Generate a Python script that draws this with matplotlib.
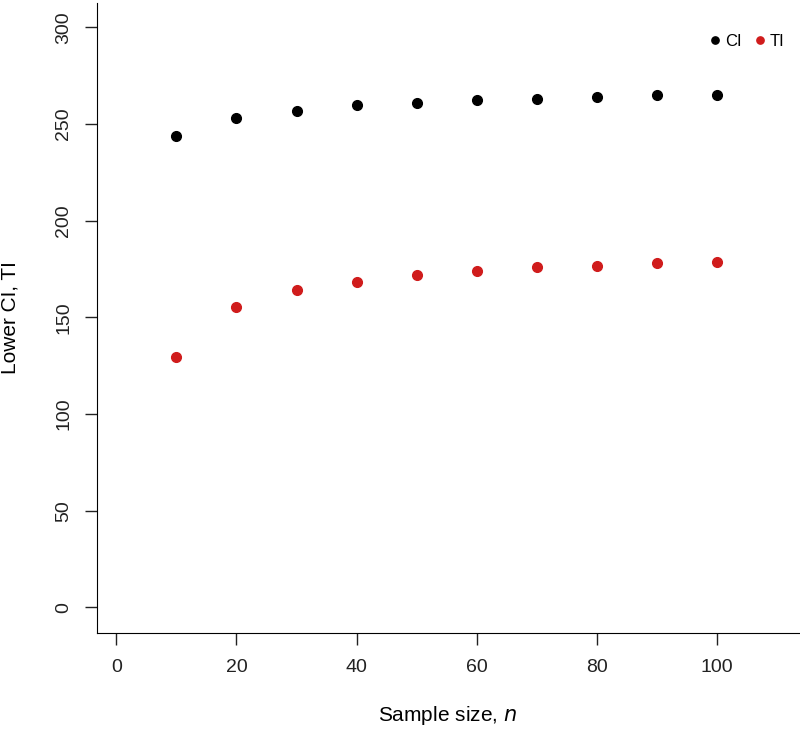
import matplotlib.pyplot as plt

plt.rcParams['font.family'] = ['Liberation Sans', 'DejaVu Sans']

n = [10, 20, 30, 40, 50, 60, 70, 80, 90, 100]
lower_ci = [243.6, 253.0, 257.0, 259.7, 261.0, 262.3, 263.0, 264.2, 264.8, 264.8]
lower_ti = [129.3, 155.4, 164.0, 168.5, 171.9, 174.0, 175.9, 176.5, 177.9, 178.5]

fig = plt.figure(figsize=(8, 7.31), dpi=100)
# axes box placed to match the R plot region
ax = fig.add_axes([96.5 / 800, 98 / 731, 703 / 800, 630 / 731])

ax.plot(n, lower_ci, 'o', color='black', ms=7, label='CI')
ax.plot(n, lower_ti, 'o', color='#d01c1c', ms=7, label='TI')

ax.set_xlim(-3.3, 113.7)
ax.set_ylim(-13.2, 312.6)
ax.set_xticks([0, 20, 40, 60, 80, 100])
ax.set_yticks([0, 50, 100, 150, 200, 250, 300])
ax.spines['top'].set_visible(False)
ax.spines['right'].set_visible(False)
ax.tick_params(direction='out', length=8.6, width=1, labelsize=14, colors='#222222')
ax.tick_params(axis='x', pad=10)
ax.tick_params(axis='y', pad=9)
for lab in ax.get_yticklabels():
    lab.set_rotation(90)
    lab.set_va('center')

ax.set_xlabel('Sample size, $\\it{n}$', fontsize=15)
ax.set_ylabel('Lower CI, TI', fontsize=15)
ax.xaxis.set_label_coords(0.5, -0.113)
ax.yaxis.set_label_coords(-0.110, 0.5)

ax.legend(loc='upper right', ncol=2, frameon=False, fontsize=12, handletextpad=0.1,
          columnspacing=0.6, markerscale=0.75, handlelength=1.0,
          bbox_to_anchor=(1.0, 0.975))

fig.savefig('out.png', dpi=100)
